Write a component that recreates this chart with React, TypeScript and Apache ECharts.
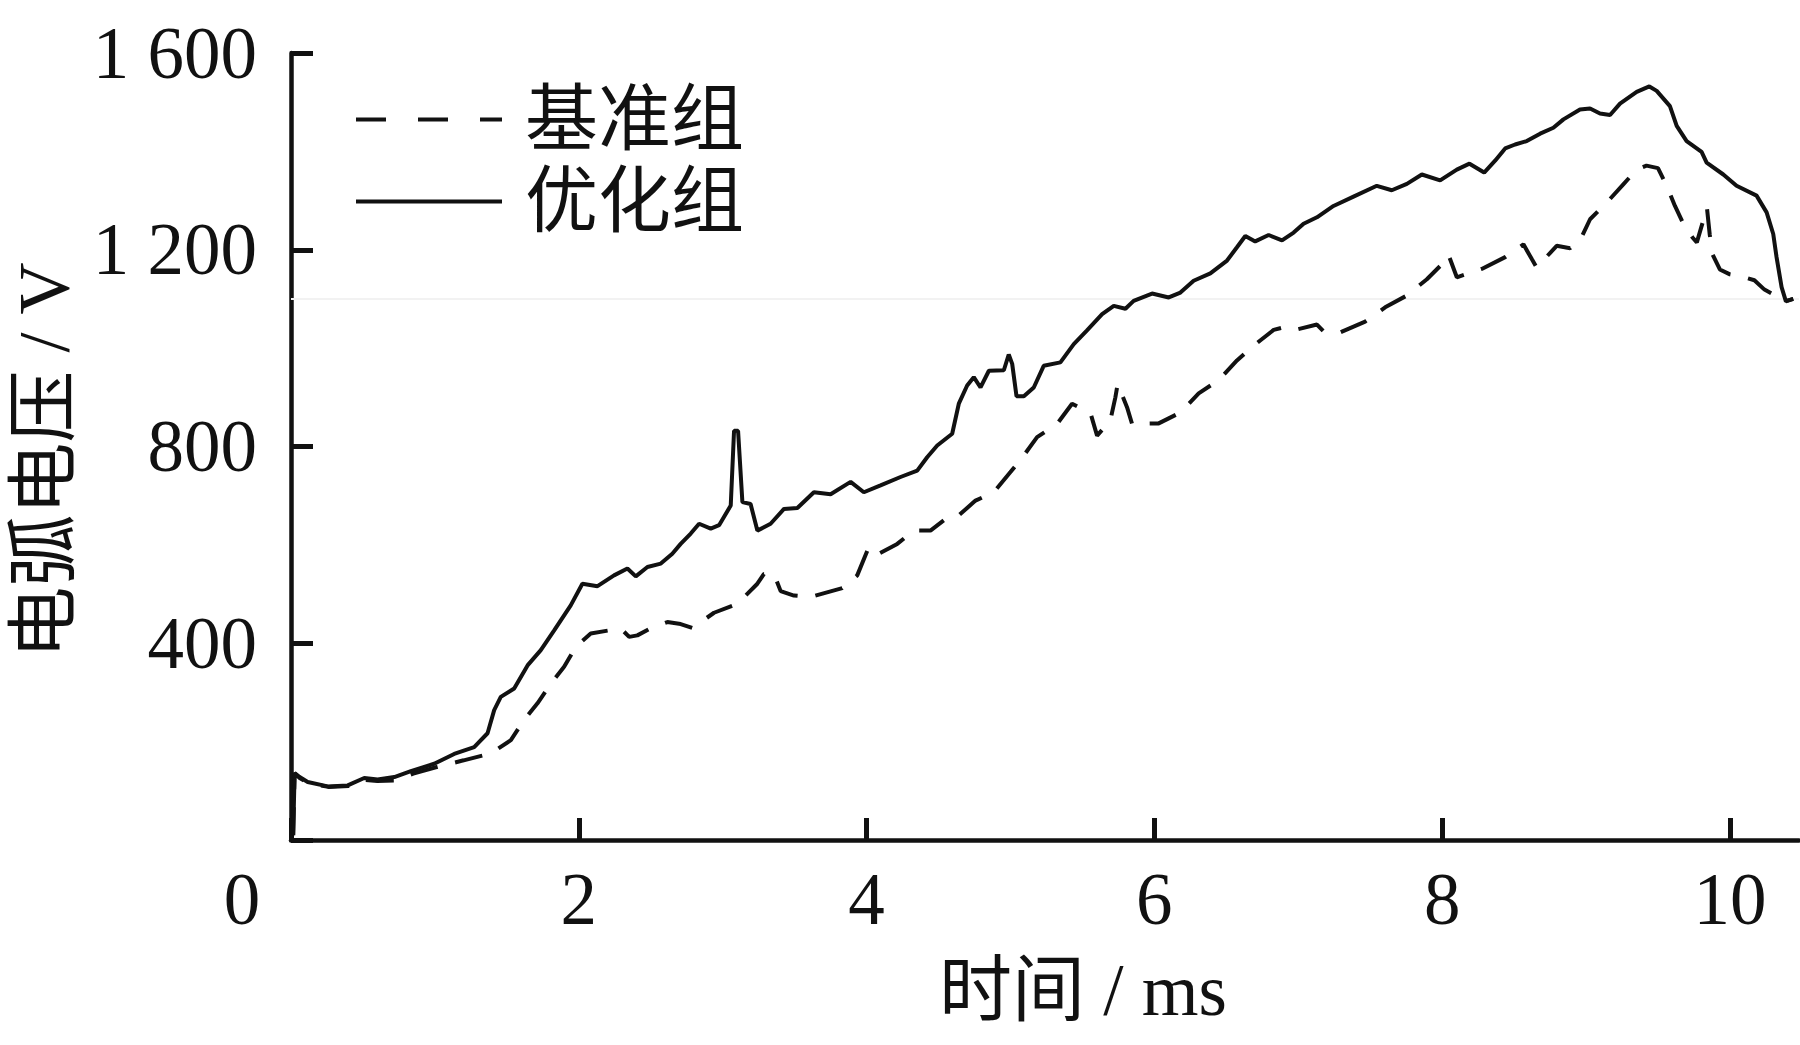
import React, { useEffect, useRef } from "react";
import * as echarts from "echarts";

// 优化组 (solid)
const timeOpt = [0.015, 0.025, 0.06, 0.116, 0.255, 0.394, 0.509, 0.602, 0.718, 0.833, 0.995, 1.134, 1.273, 1.366, 1.412, 1.458, 1.551, 1.644, 1.736, 1.829, 1.944, 2.025, 2.13, 2.245, 2.338, 2.396, 2.477, 2.57, 2.65, 2.708, 2.778, 2.836, 2.917, 2.975, 3.056, 3.079, 3.107, 3.137, 3.194, 3.241, 3.333, 3.426, 3.519, 3.634, 3.75, 3.889, 3.981, 4.097, 4.236, 4.352, 4.421, 4.491, 4.595, 4.641, 4.699, 4.745, 4.792, 4.85, 4.954, 4.988, 5.012, 5.042, 5.093, 5.162, 5.231, 5.347, 5.44, 5.532, 5.637, 5.718, 5.799, 5.856, 5.984, 6.1, 6.181, 6.273, 6.389, 6.505, 6.574, 6.632, 6.701, 6.794, 6.887, 6.968, 7.037, 7.13, 7.245, 7.384, 7.546, 7.65, 7.755, 7.859, 7.986, 8.102, 8.19, 8.292, 8.368, 8.438, 8.507, 8.588, 8.681, 8.773, 8.843, 8.958, 9.028, 9.097, 9.167, 9.236, 9.352, 9.44, 9.491, 9.583, 9.63, 9.699, 9.803, 9.838, 9.954, 10.046, 10.185, 10.255, 10.301, 10.324, 10.359, 10.389, 10.44];
const voltOpt = [10, 136, 128, 118, 109, 111, 126, 123, 128, 140, 155, 175, 189, 217, 264, 291, 308, 355, 386, 426, 477, 521, 516, 538, 552, 536, 555, 562, 582, 602, 623, 643, 633, 640, 680, 832, 832, 687, 683, 629, 643, 673, 675, 707, 703, 728, 707, 721, 738, 751, 778, 802, 826, 887, 924, 941, 920, 954, 955, 987, 968, 902, 902, 920, 964, 971, 1008, 1036, 1069, 1086, 1080, 1096, 1111, 1103, 1113, 1137, 1152, 1178, 1205, 1228, 1217, 1230, 1219, 1235, 1253, 1266, 1289, 1308, 1330, 1321, 1334, 1353, 1341, 1363, 1375, 1357, 1381, 1406, 1414, 1421, 1436, 1448, 1465, 1485, 1487, 1477, 1474, 1497, 1521, 1532, 1523, 1492, 1452, 1421, 1399, 1377, 1353, 1330, 1310, 1276, 1232, 1185, 1124, 1095, 1100];

// 基准组 (dashed)
const timeBase = [0.015, 0.025, 0.06, 0.12, 0.26, 0.4, 0.51, 0.6, 0.72, 0.85, 1.02, 1.2, 1.39, 1.528, 1.62, 1.713, 1.806, 1.898, 1.979, 2.083, 2.292, 2.35, 2.407, 2.51, 2.616, 2.708, 2.789, 2.94, 3.102, 3.241, 3.287, 3.356, 3.403, 3.495, 3.611, 3.831, 3.935, 4.016, 4.086, 4.213, 4.329, 4.444, 4.537, 4.606, 4.757, 4.884, 5.0, 5.093, 5.185, 5.324, 5.428, 5.556, 5.602, 5.694, 5.729, 5.745, 5.81, 5.845, 6.03, 6.181, 6.308, 6.447, 6.574, 6.69, 6.829, 6.921, 6.991, 7.13, 7.176, 7.292, 7.465, 7.604, 7.755, 7.894, 8.01, 8.044, 8.102, 8.275, 8.438, 8.565, 8.623, 8.657, 8.796, 8.889, 8.958, 9.028, 9.144, 9.259, 9.352, 9.42, 9.5, 9.56, 9.618, 9.676, 9.74, 9.77, 9.81, 9.84, 9.86, 9.88, 9.93, 10.0, 10.09, 10.17, 10.24, 10.31, 10.39, 10.44];
const voltBase = [10, 136, 126, 116, 108, 110, 122, 120, 121, 135, 149, 162, 176, 203, 244, 278, 318, 352, 393, 420, 430, 413, 416, 432, 443, 439, 431, 462, 480, 521, 541, 541, 506, 497, 494, 512, 538, 596, 582, 602, 629, 629, 650, 651, 690, 707, 748, 782, 819, 846, 887, 868, 822, 853, 900, 927, 880, 846, 847, 869, 908, 935, 975, 1005, 1037, 1044, 1038, 1048, 1034, 1032, 1054, 1083, 1107, 1140, 1174, 1190, 1144, 1161, 1185, 1211, 1181, 1164, 1208, 1203, 1219, 1262, 1296, 1333, 1363, 1371, 1366, 1330, 1289, 1253, 1225, 1215, 1255, 1286, 1230, 1190, 1160, 1150, 1145, 1138, 1119, 1108, 1096, 1100];

const xTicks = [0, 2, 4, 6, 8, 10];
const yTicks = [0, 400, 800, 1200, 1600];
const seriesNames = ["基准组", "优化组"];
const xName = "时间 / ms";
const yName = "电弧电压 / V";
const faintLineValue = 1100;

const FONT = "'Liberation Serif', 'Times New Roman', 'Noto Sans CJK SC', serif";
const INK = "#111111";

function fmtY(v: number): string {
  if (v === 0) return "";
  if (v >= 1000) {
    const th = Math.floor(v / 1000);
    const rest = String(v % 1000).padStart(3, "0");
    return th + " " + rest;
  }
  return String(v);
}

export default function App() {
  const ref = useRef<HTMLDivElement>(null);
  useEffect(() => {
    if (!ref.current) return;
    const chart = echarts.init(ref.current, null, { renderer: "svg" });
    const hidden = { color: "rgba(0,0,0,0)", opacity: 0, borderWidth: 0 };
    const option: any = {
      animation: false,
      backgroundColor: "#ffffff",
      grid: { left: 290, right: 1, top: 53, bottom: 205, containLabel: false },
      legend: {
        orient: "vertical",
        left: 349,
        top: 78,
        itemWidth: 146,
        itemHeight: 20,
        itemGap: 9,
        selectedMode: false,
        itemStyle: hidden,
        lineStyle: { type: [30, 32], width: 4, color: INK },
        textStyle: { fontSize: 73, color: INK, fontFamily: FONT, padding: [0, 0, 0, 18] },
        data: [
          { name: seriesNames[0], itemStyle: hidden, lineStyle: { type: [30, 32], width: 4, color: INK } },
          { name: seriesNames[1], itemStyle: hidden, lineStyle: { type: "solid", width: 4, color: INK } },
        ],
      },
      xAxis: {
        type: "value",
        min: 0,
        max: 10.48,
        interval: 2,
        name: xName,
        nameLocation: "middle",
        nameGap: 114,
        nameTextStyle: { fontSize: 73, color: INK, fontFamily: FONT, padding: [0, 0, 0, 76] },
        axisLine: { show: true, onZero: false, lineStyle: { color: INK, width: 4.5 } },
        axisTick: { show: true, inside: true, length: 22, lineStyle: { color: INK, width: 5 }, customValues: xTicks },
        axisLabel: {
          show: true,
          margin: 23,
          fontSize: 73,
          color: INK,
          fontFamily: FONT,
          customValues: xTicks,
          formatter: (v: number) => (v === 0 ? "{z|0}" : String(v)),
          rich: { z: { fontSize: 73, color: INK, fontFamily: FONT, padding: [0, 98, 0, 0] } },
        },
        splitLine: { show: false },
      },
      yAxis: {
        type: "value",
        min: 0,
        max: 1600,
        interval: 400,
        name: yName,
        nameLocation: "middle",
        nameRotate: 90,
        nameGap: 211,
        nameTextStyle: { fontSize: 72, color: INK, fontFamily: FONT, padding: [0, 28, 0, 0] },
        axisLine: { show: true, onZero: false, lineStyle: { color: INK, width: 4.5 } },
        axisTick: { show: true, inside: true, length: 22, lineStyle: { color: INK, width: 5 }, customValues: yTicks },
        axisLabel: {
          show: true,
          margin: 34,
          fontSize: 73,
          color: INK,
          fontFamily: FONT,
          customValues: yTicks,
          formatter: (v: number) => fmtY(v),
        },
        splitLine: { show: false },
      },
      series: [
        {
          name: seriesNames[0],
          type: "line",
          data: timeBase.map((t, i) => [t, voltBase[i]]),
          symbol: "none",
          showSymbol: false,
          smooth: false,
          lineStyle: { color: INK, width: 4, type: [28, 18] },
          itemStyle: { color: INK },
          z: 3,
          markLine: {
            silent: true,
            symbol: "none",
            label: { show: false },
            lineStyle: { color: "#f2f2f2", width: 2, type: "solid" },
            data: [{ yAxis: faintLineValue }],
            z: 1,
          },
        },
        {
          name: seriesNames[1],
          type: "line",
          data: timeOpt.map((t, i) => [t, voltOpt[i]]),
          symbol: "none",
          showSymbol: false,
          smooth: false,
          lineStyle: { color: INK, width: 4, type: "solid" },
          itemStyle: { color: INK },
          z: 4,
        },
      ],
    };
    chart.setOption(option);
    return () => chart.dispose();
  }, []);
  return (
    <div
      ref={ref}
      style={{ position: "fixed", left: 0, top: 0, width: 1800, height: 1045, background: "#fff" }}
    />
  );
}
